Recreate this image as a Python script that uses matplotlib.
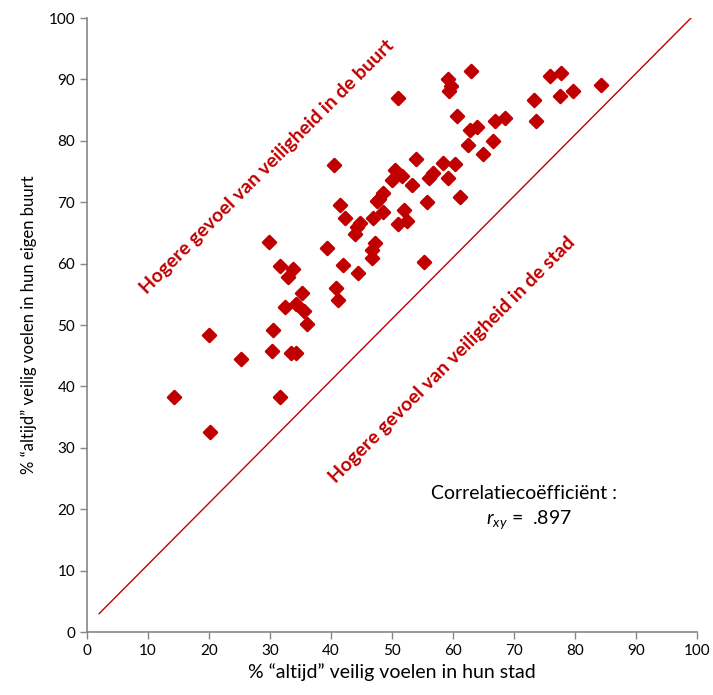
import numpy as np
import matplotlib
matplotlib.use("Agg")
import matplotlib.pyplot as plt
from matplotlib.markers import MarkerStyle

plt.rcParams['font.family'] = ['Lato', 'DejaVu Sans']
plt.rcParams['mathtext.fontset'] = 'custom'
plt.rcParams['mathtext.it'] = 'Lato:italic'
plt.rcParams['mathtext.rm'] = 'Lato'

# % "altijd" veilig in de stad (x) vs. in de eigen buurt (y)
stad = [14.2, 20.0, 20.2, 25.2, 29.8, 30.4, 30.5, 31.6, 31.7, 32.4,
        33.0, 33.8, 33.5, 34.2, 34.2, 35.3, 35.6, 36.0, 39.3, 40.5,
        40.8, 41.2, 41.4, 41.9, 42.3, 43.9, 44.3, 44.7, 44.5, 46.7,
        46.8, 46.9, 47.2, 47.5, 47.9, 48.6, 48.6, 50.0, 50.5, 51.0,
        51.0, 51.6, 51.9, 52.5, 53.2, 54.0, 55.2, 55.8, 56.0, 56.8,
        58.4, 59.2, 59.2, 59.6, 59.4, 60.4, 60.6, 61.1, 62.5, 62.8,
        62.9, 63.9, 64.9, 66.6, 66.9, 68.6, 73.2, 73.6, 75.9, 77.5,
        77.7, 79.6, 84.3]
buurt = [38.3, 48.4, 32.5, 44.5, 63.5, 45.7, 49.2, 38.2, 59.6, 53.0,
         57.9, 59.2, 45.5, 45.5, 53.4, 55.3, 52.3, 50.1, 62.5, 76.1,
         56.0, 54.1, 69.5, 59.8, 67.4, 64.8, 66.0, 66.7, 58.5, 62.2,
         60.9, 67.4, 63.3, 70.2, 70.6, 71.5, 68.4, 73.6, 75.3, 66.5,
         86.9, 74.2, 68.8, 67.0, 72.8, 77.1, 60.3, 70.0, 73.9, 74.7,
         76.4, 73.9, 90.0, 88.9, 88.2, 76.2, 84.1, 70.8, 79.3, 81.7,
         91.4, 82.3, 77.8, 80.0, 83.3, 83.7, 86.6, 83.2, 90.6, 87.3,
         91.0, 88.2, 89.1]

diag_x = [2, 99]
diag_y = [3, 100]

ticks = list(range(0, 101, 10))
red = '#C00000'
grey = '#868686'

fig = plt.figure(figsize=(7.13, 6.95), dpi=100)
ax = fig.add_axes([0.122, 0.0906, 0.8556, 0.8834])

ax.plot(diag_x, diag_y, color=red, linewidth=1.0)
ax.scatter(stad, buurt, marker=MarkerStyle('D', joinstyle='round'), s=44,
           color=red, edgecolors=red, linewidths=1.8, zorder=3)

ax.set_xlim(0, 100)
ax.set_ylim(0, 100)
ax.set_xticks(ticks)
ax.set_yticks(ticks)
for side in ['top', 'right']:
    ax.spines[side].set_visible(False)
for side in ['left', 'bottom']:
    ax.spines[side].set_color(grey)
    ax.spines[side].set_linewidth(1.2)
ax.tick_params(direction='out', length=5, color=grey, width=1.0,
               labelsize=11, labelcolor='black')

ax.set_xlabel('% “altijd” veilig voelen in hun stad', fontsize=14, labelpad=4)
ax.set_ylabel('% “altijd” veilig voelen in hun eigen buurt', fontsize=12,
              labelpad=8)

ax.text(29.5, 75.8, 'Hogere gevoel van veiligheid in de buurt', color=red,
        fontsize=14, fontweight='bold', rotation=45, rotation_mode='anchor',
        ha='center', va='center')
ax.text(59.9, 44.3, 'Hogere gevoel van veiligheid in de stad', color=red,
        fontsize=14, fontweight='bold', rotation=45, rotation_mode='anchor',
        ha='center', va='center')

ax.text(71.6, 22.6, 'Correlatiecoëfficiënt :', fontsize=14, ha='center',
        va='center')
ax.text(72.4, 18.4, r'$r_{xy}$ =  .897', fontsize=14, ha='center',
        va='center')

fig.savefig('out.png', dpi=100)
